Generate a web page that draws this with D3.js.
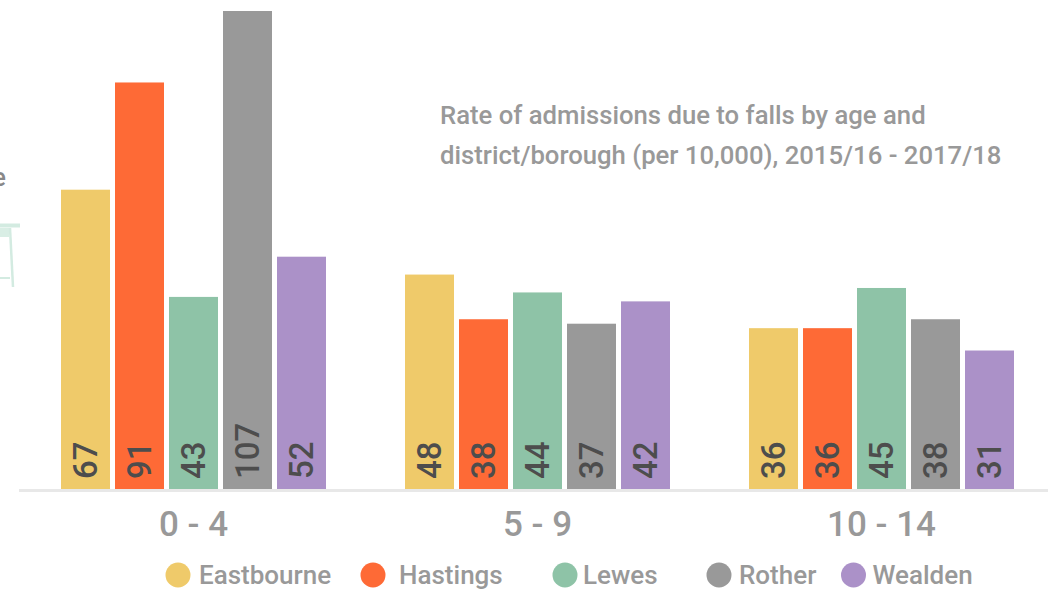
<!DOCTYPE html>
<html>
<head>
    <meta charset="utf-8">
    <title>Falls admissions by age</title>
    <script src="https://d3js.org/d3.v7.min.js"></script>
    <style>
        body {
            margin: 0;
            padding: 0;
            background: #fff;
        }
        svg {
            display: block;
            font-family: Roboto, "Noto Sans", sans-serif;
            font-weight: 500;
        }
        .value-label {
            font-size: 33px;
            fill: #4d4d4d;
        }
        .cat-label {
            font-size: 35px;
            fill: #999;
            text-anchor: middle;
        }
        .legend-label {
            font-size: 26px;
            fill: #999;
        }
        .title {
            font-size: 25.7px;
            fill: #999;
        }
    </style>
</head>
<body>
    <svg width="1048" height="592"></svg>
    <script>
        // data
        var ageGroups = ['0 - 4', '5 - 9', '10 - 14'];
        var districts = ['Eastbourne', 'Hastings', 'Lewes', 'Rother', 'Wealden'];
        var colours = ['#efca6a', '#fe6a36', '#8ec3a7', '#999999', '#ab91c8'];
        var rates0to4 = [67, 91, 43, 107, 52];
        var rates5to9 = [48, 38, 44, 37, 42];
        var rates10to14 = [36, 36, 45, 38, 31];
        var titleLines = ['Rate of admissions due to falls by age and',
                          'district/borough (per 10,000), 2015/16 - 2017/18'];

        var allRates = [rates0to4, rates5to9, rates10to14];

        var svg = d3.select('svg');
        var baseline = 489;

        var x0 = d3.scaleBand()
            .domain(ageGroups)
            .range([21.5, 1053.5])
            .paddingInner(0.2297)
            .paddingOuter(0.11485);

        var x1 = d3.scaleBand()
            .domain(districts)
            .range([0, x0.bandwidth()])
            .paddingInner(5 / 54)
            .paddingOuter(0);

        var y = d3.scaleLinear()
            .domain([0, 107])
            .range([baseline, 11]);

        var colour = d3.scaleOrdinal().domain(districts).range(colours);

        // leftover bits of a neighbouring graphic at the left edge
        svg.append('text')
            .attr('x', 6)
            .attr('y', 186)
            .style('text-anchor', 'end')
            .style('font-size', '25px')
            .style('fill', '#888')
            .text('e');
        var deco = svg.append('g').style('stroke', '#d3ebe1').style('fill', 'none');
        deco.append('rect').attr('x', 0).attr('y', 228).attr('width', 9).attr('height', 9)
            .style('fill', '#d9eee5').style('stroke', 'none');
        deco.append('line').attr('x1', 0).attr('y1', 225.5).attr('x2', 20).attr('y2', 225.5)
            .style('stroke-width', 4);
        deco.append('line').attr('x1', 10).attr('y1', 228).attr('x2', 13).attr('y2', 287)
            .style('stroke-width', 2.5);
        deco.append('line').attr('x1', 0).attr('y1', 278).attr('x2', 10).attr('y2', 278)
            .style('stroke-width', 2);

        // baseline
        svg.append('line')
            .attr('x1', 19)
            .attr('x2', 1048)
            .attr('y1', baseline + 1.5)
            .attr('y2', baseline + 1.5)
            .style('stroke', '#e8e8e8')
            .style('stroke-width', 3);

        var rows = [];
        ageGroups.forEach(function(g, i) {
            districts.forEach(function(d, j) {
                rows.push({ group: g, district: d, value: allRates[i][j] });
            });
        });

        var bars = svg.append('g').selectAll('g')
            .data(rows)
            .enter().append('g')
            .attr('transform', function(d) {
                return 'translate(' + (x0(d.group) + x1(d.district)) + ',0)';
            });

        bars.append('rect')
            .attr('x', 0)
            .attr('y', function(d) { return y(d.value); })
            .attr('width', x1.bandwidth())
            .attr('height', function(d) { return baseline - y(d.value); })
            .style('fill', function(d) { return colour(d.district); });

        bars.append('text')
            .attr('class', 'value-label')
            .attr('transform', 'translate(' + (x1.bandwidth() / 2) + ',' + (baseline - 10) + ') rotate(-90)')
            .attr('dy', '0.36em')
            .text(function(d) { return d.value; });

        // category labels
        svg.append('g').selectAll('text')
            .data(ageGroups)
            .enter().append('text')
            .attr('class', 'cat-label')
            .attr('x', function(d) { return x0(d) + x0.bandwidth() / 2; })
            .attr('y', 536)
            .text(function(d) { return d; });

        // title
        svg.append('g').selectAll('text')
            .data(titleLines)
            .enter().append('text')
            .attr('class', 'title')
            .attr('x', 440)
            .attr('y', function(d, i) { return 124 + i * 40; })
            .text(function(d) { return d; });

        // legend
        var legendX = [178, 373, 565, 719, 853.5];
        var legendGap = [21, 26, 18, 20, 19];
        var legend = svg.append('g').selectAll('g')
            .data(districts)
            .enter().append('g')
            .attr('transform', function(d, i) { return 'translate(' + legendX[i] + ',575)'; });
        legend.append('circle')
            .attr('r', 12.5)
            .style('fill', function(d) { return colour(d); });
        legend.append('text')
            .attr('class', 'legend-label')
            .attr('x', function(d, i) { return legendGap[i]; })
            .attr('dy', '0.36em')
            .text(function(d) { return d; });
    </script>
</body>
</html>
